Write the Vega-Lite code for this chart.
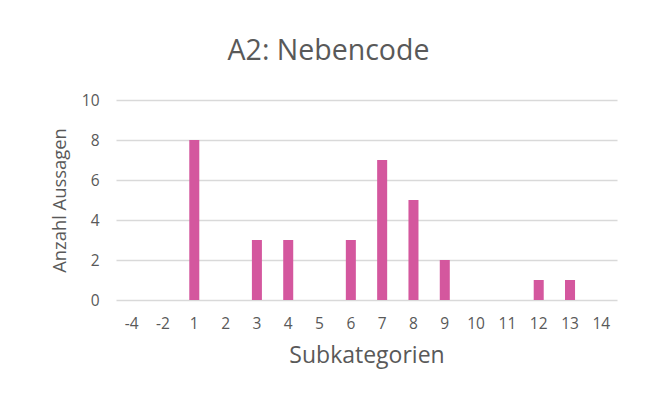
{
  "$schema": "https://vega.github.io/schema/vega-lite/v6.json",
  "width": 501,
  "height": 200,
  "autosize": {"type": "none"},
  "padding": {"left": 116, "top": 100, "right": 28, "bottom": 107},
  "background": "white",
  "title": {
    "text": "A2: Nebencode",
    "fontSize": 28.5,
    "font": "Open Sans",
    "fontWeight": "normal",
    "color": "#595959",
    "anchor": "middle",
    "frame": "group",
    "dx": -38,
    "offset": 28
  },
  "data": {
    "values": [
      {"Subkategorie": "-4", "Anzahl": 0},
      {"Subkategorie": "-2", "Anzahl": 0},
      {"Subkategorie": "1", "Anzahl": 8},
      {"Subkategorie": "2", "Anzahl": 0},
      {"Subkategorie": "3", "Anzahl": 3},
      {"Subkategorie": "4", "Anzahl": 3},
      {"Subkategorie": "5", "Anzahl": 0},
      {"Subkategorie": "6", "Anzahl": 3},
      {"Subkategorie": "7", "Anzahl": 7},
      {"Subkategorie": "8", "Anzahl": 5},
      {"Subkategorie": "9", "Anzahl": 2},
      {"Subkategorie": "10", "Anzahl": 0},
      {"Subkategorie": "11", "Anzahl": 0},
      {"Subkategorie": "12", "Anzahl": 1},
      {"Subkategorie": "13", "Anzahl": 1},
      {"Subkategorie": "14", "Anzahl": 0}
    ]
  },
  "mark": {"type": "bar", "color": "#D4579E"},
  "encoding": {
    "x": {
      "field": "Subkategorie",
      "type": "nominal",
      "sort": null,
      "scale": {"paddingInner": 0.68, "paddingOuter": 0.34},
      "axis": {
        "title": "Subkategorien",
        "titleFontSize": 23,
        "titleFont": "Open Sans",
        "titleFontWeight": "normal",
        "titleColor": "#595959",
        "titlePadding": 13,
        "labelAngle": 0,
        "labelFontSize": 15.5,
        "labelFont": "Open Sans",
        "labelColor": "#595959",
        "labelPadding": 16,
        "domain": false,
        "ticks": false
      }
    },
    "y": {
      "field": "Anzahl",
      "type": "quantitative",
      "scale": {"domain": [0, 10]},
      "axis": {
        "title": "Anzahl Aussagen",
        "titleFontSize": 18.4,
        "titleFont": "Open Sans",
        "titleFontWeight": "normal",
        "titleColor": "#595959",
        "titlePadding": 12,
        "values": [0, 2, 4, 6, 8, 10],
        "labelFontSize": 15.5,
        "labelFont": "Open Sans",
        "labelColor": "#595959",
        "labelPadding": 17,
        "domain": false,
        "ticks": false,
        "grid": true,
        "gridColor": "#D9D9D9",
        "gridWidth": 1.3
      }
    }
  },
  "config": {"view": {"stroke": null}}
}
